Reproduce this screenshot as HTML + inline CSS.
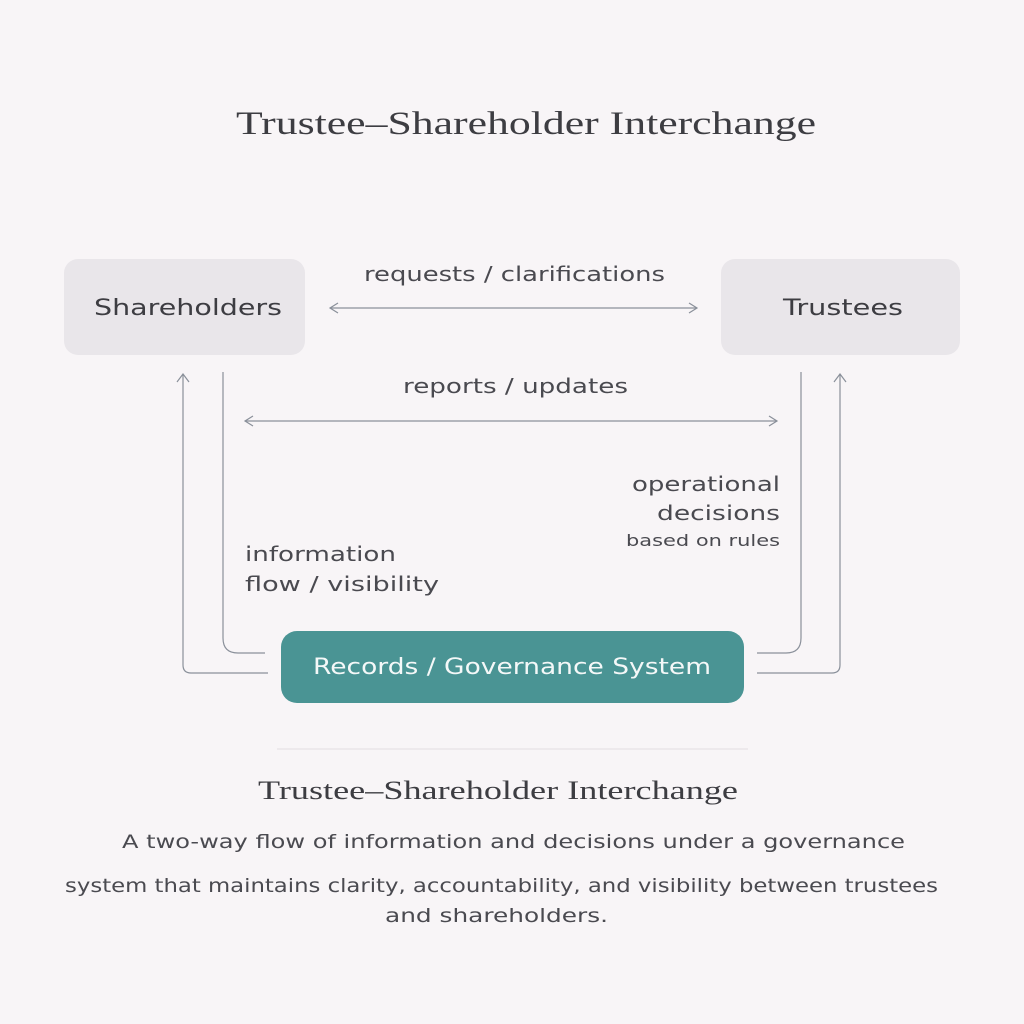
<!DOCTYPE html>
<html><head><meta charset="utf-8"><style>
html,body{margin:0;padding:0;background:#f8f5f7;}
svg{display:block}
</style></head><body>
<svg width="1024" height="1024" viewBox="0 0 1024 1024" xmlns="http://www.w3.org/2000/svg">
<rect width="1024" height="1024" fill="#f8f5f7"/>
<text x="236" y="134" textLength="580" lengthAdjust="spacingAndGlyphs" font-family="Liberation Serif, serif" font-size="33" fill="#3d3d42">Trustee–Shareholder Interchange</text>
<rect x="64" y="259" width="241" height="96" rx="14" fill="#e9e6ea"/>
<rect x="721" y="259" width="239" height="96" rx="14" fill="#e9e6ea"/>
<g font-family="DejaVu Sans, sans-serif" fill="#4a4a50">
<text x="94" y="315" textLength="188" lengthAdjust="spacingAndGlyphs" font-size="22" fill="#3d3d42">Shareholders</text>
<text x="783" y="315" textLength="120" lengthAdjust="spacingAndGlyphs" font-size="22" fill="#3d3d42">Trustees</text>
<text x="364" y="281" textLength="301" lengthAdjust="spacingAndGlyphs" font-size="20">requests / clarifications</text>
<text x="403" y="393" textLength="225" lengthAdjust="spacingAndGlyphs" font-size="20">reports / updates</text>
<text x="245" y="561" textLength="151" lengthAdjust="spacingAndGlyphs" font-size="20">information</text>
<text x="245" y="591" textLength="194" lengthAdjust="spacingAndGlyphs" font-size="20">flow / visibility</text>
<text x="632" y="491" textLength="148" lengthAdjust="spacingAndGlyphs" font-size="20">operational</text>
<text x="657" y="520" textLength="123" lengthAdjust="spacingAndGlyphs" font-size="20">decisions</text>
<text x="626" y="546" textLength="154" lengthAdjust="spacingAndGlyphs" font-size="16">based on rules</text>
</g>
<g stroke="#8a909a" stroke-width="1.2" fill="none">
<line x1="330" y1="308" x2="697" y2="308"/>
<polyline points="338,303 330,308 338,313"/><polyline points="689,303 697,308 689,313"/>
<line x1="245" y1="421" x2="777" y2="421"/>
<polyline points="253,416 245,421 253,426"/><polyline points="769,416 777,421 769,426"/>
<path d="M223 372 V638 Q223 653 238 653 H265"/>
<path d="M183 374 V665 Q183 673 191 673 H268"/>
<polyline points="177,382 183,374 189,382"/>
<path d="M801 372 V638 Q801 653 786 653 H757"/>
<path d="M840 374 V665 Q840 673 832 673 H757"/>
<polyline points="834,382 840,374 846,382"/>
</g>
<rect x="281" y="631" width="463" height="72" rx="16" fill="#4a9494"/>
<text x="313" y="674" textLength="398" lengthAdjust="spacingAndGlyphs" font-family="DejaVu Sans, sans-serif" font-size="22" fill="#f4f8f8">Records / Governance System</text>
<line x1="277" y1="749" x2="748" y2="749" stroke="#e2dde2" stroke-width="1"/>
<text x="258" y="799" textLength="480" lengthAdjust="spacingAndGlyphs" font-family="Liberation Serif, serif" font-size="26" fill="#3d3d42">Trustee–Shareholder Interchange</text>
<g font-family="DejaVu Sans, sans-serif" font-size="19" fill="#4a4a50">
<text x="122" y="848" textLength="783" lengthAdjust="spacingAndGlyphs">A two-way flow of information and decisions under a governance</text>
<text x="65" y="892" textLength="873" lengthAdjust="spacingAndGlyphs">system that maintains clarity, accountability, and visibility between trustees</text>
<text x="385" y="922" textLength="223" lengthAdjust="spacingAndGlyphs">and shareholders.</text>
</g>
</svg>
</body></html>
